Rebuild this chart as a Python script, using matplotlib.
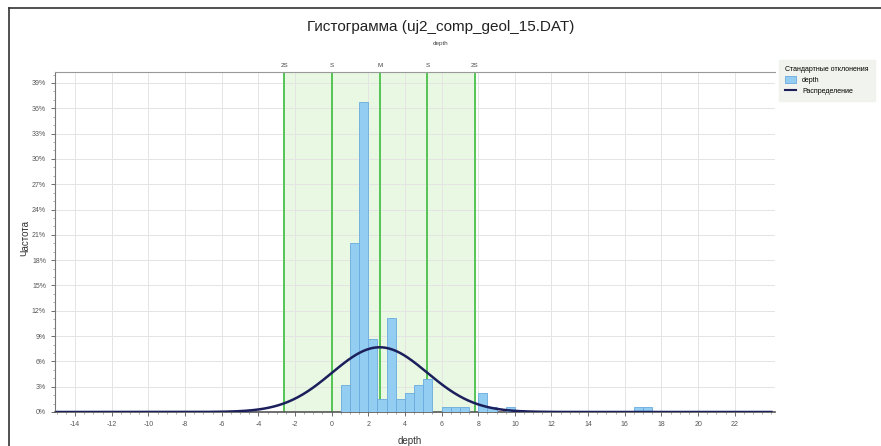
import numpy as np
import matplotlib.pyplot as plt
from matplotlib.ticker import AutoMinorLocator
from matplotlib.lines import Line2D
from matplotlib.patches import Patch

plt.rcParams['font.family'] = ['Liberation Sans', 'DejaVu Sans']
plt.rcParams['axes.unicode_minus'] = False

# histogram of depth, bin width 0.5, values in percent
bin_left = [0.5, 1.0, 1.5, 2.0, 2.5, 3.0, 3.5, 4.0, 4.5, 5.0,
            6.0, 6.5, 7.0, 8.0, 8.5, 9.5, 16.5, 17.0]
freq_pct = [3.2, 20.0, 36.7, 8.6, 1.5, 11.2, 1.5, 2.3, 3.2, 3.9,
            0.6, 0.6, 0.6, 2.2, 0.6, 0.6, 0.6, 0.6]
bin_width = 0.5

# fitted normal distribution
mean = 2.62
std = 2.6
sd_labels = ['2S', 'S', 'M', 'S', '2S']
sd_mult = [-2, -1, 0, 1, 2]

x_ticks = list(range(-14, 23, 2))
y_ticks = list(range(0, 40, 3))

fig = plt.figure(figsize=(8.81, 4.46), dpi=100)
ax = fig.add_axes([55 / 881, 1 - 412 / 446, 720 / 881, 340 / 446])

# std-dev band
ax.axvspan(mean - 2 * std, mean + 2 * std, color='#e8f8e2', zorder=0)

ax.bar(bin_left, freq_pct, width=bin_width, align='edge',
       color='#93cdf2', edgecolor='#6aaade', linewidth=0.6, zorder=3)

for m in sd_mult:
    ax.axvline(mean + m * std, color='#55c455', lw=1.4, zorder=2)
for m, lab in zip(sd_mult, sd_labels):
    ax.text(mean + m * std, 1.012, lab, transform=ax.get_xaxis_transform(),
            ha='center', va='bottom', fontsize=4.5, color='#444444')

xs = np.linspace(-15, 24, 600)
pdf = 100 * bin_width * np.exp(-0.5 * ((xs - mean) / std) ** 2) / (std * np.sqrt(2 * np.pi))
ax.plot(xs, pdf, color='#1b1f5c', lw=1.8, zorder=4)

ax.set_xlim(-15.1, 24.2)
ax.set_ylim(0, 40.3)
ax.set_xticks(x_ticks)
ax.set_yticks(y_ticks)
ax.set_yticklabels([f'{v}%' for v in y_ticks])
ax.xaxis.set_minor_locator(AutoMinorLocator(4))
ax.yaxis.set_minor_locator(AutoMinorLocator(3))
ax.tick_params(labelsize=5, colors='#555555', length=3, width=0.6)
ax.tick_params(which='minor', length=1.5, width=0.5, colors='#888888')
ax.grid(True, color='#e4e4e4', lw=0.7, zorder=1)
ax.set_axisbelow(True)

ax.spines['right'].set_visible(False)
ax.spines['top'].set_color('#999999')
ax.spines['left'].set_color('#777777')
ax.spines['bottom'].set_color('#555555')
ax.spines['bottom'].set_linewidth(1.2)

ax.set_xlabel('depth', fontsize=7, color='#333333')
ax.xaxis.set_label_coords((410 - 55) / 720, -(436 - 412) / 340)
ax.set_ylabel('Частота', fontsize=7, color='#333333')
ax.yaxis.set_label_coords(-(55 - 30) / 720, (412 - 238) / 340)

fig.text(0.5, 1 - 27 / 446, 'Гистограмма (uj2_comp_geol_15.DAT)',
         ha='center', va='center', fontsize=11, color='#222222')
fig.text(0.5, 1 - 43 / 446, 'depth', ha='center', va='center', fontsize=4.5, color='#444444')

handles = [Patch(facecolor='#93cdf2', edgecolor='#6aaade', lw=0.6),
           Line2D([0], [0], color='#1b1f5c', lw=1.5)]
leg = fig.legend(handles, ['depth', 'Распределение'], title='Стандартные отклонения',
                 loc='upper left', bbox_to_anchor=(779 / 881, 1 - 60 / 446),
                 fontsize=5, title_fontsize=5, frameon=True, fancybox=False,
                 handlelength=1.6, handleheight=1.2, borderpad=0.9, labelspacing=0.4,
                 alignment='left', borderaxespad=0)
leg.get_frame().set_facecolor('#eef1ea')
leg.get_frame().set_edgecolor('#eef1ea')

# outer frame of the screenshot
fig.add_artist(Line2D([9 / 881, 9 / 881], [0, 1 - 8 / 446], color='#333333', lw=1.2))
fig.add_artist(Line2D([9 / 881, 1], [1 - 8 / 446, 1 - 8 / 446], color='#333333', lw=1.2))

fig.savefig('out.png', dpi=100)
